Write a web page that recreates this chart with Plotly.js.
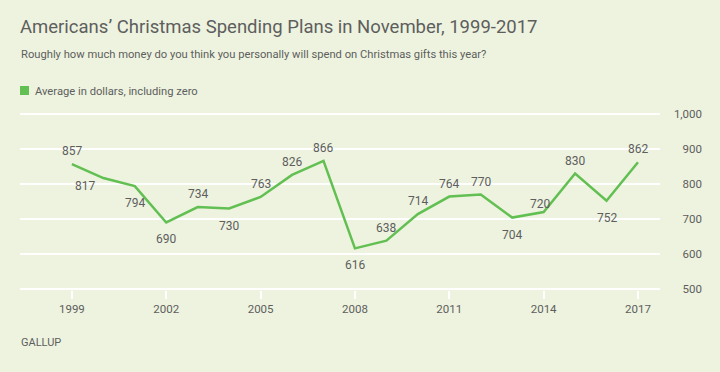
<!DOCTYPE html>
<html><head><meta charset="utf-8">
<script src="https://cdn.plot.ly/plotly-3.0.1.min.js"></script>
<style>html,body{margin:0;padding:0;background:#edf3de;}#chart{width:720px;height:372px;}</style>
</head><body><div id="chart"></div>
<script>
const years = [1999,2000,2001,2002,2003,2004,2005,2006,2007,2008,2009,2010,2011,2012,2013,2014,2015,2016,2017];
const spending = [857,817,794,690,734,730,763,826,866,616,638,714,764,770,704,720,830,752,862];
const xTickVals = [1999,2002,2005,2008,2011,2014,2017];
const yTickVals = [500,600,700,800,900,1000];
const yTickText = ['500','600','700','800','900','1,000'];
const seriesName = 'Average in dollars, including zero';
const titleText = 'Americans\u2019 Christmas Spending Plans in November, 1999-2017';
const subtitleText = 'Roughly how much money do you think you personally will spend on Christmas gifts this year?';
const sourceText = 'GALLUP';

// label placement (style): [xshift, yshift]
const labelShift = [[0,13],[-18,-8],[0,-17],[0,-17],[0,13],[0,-17],[0,13],[0,13],[0,13],[0,-17],[0,13],[0,13],[0,13],[0,13],[0,-17],[-4,8],[0,13],[0,-17],[0,13]];

const green = '#62bf52';
const txt = '#5e5e5e';
const bg = '#edf3de';
const FONT = 'Roboto, sans-serif';

const W = 720, H = 372, ML = 20, MR = 18, MT = 113, MB = 82;
const PW = W - ML - MR, PH = H - MT - MB;
const px = x => (x - ML) / PW;          // pixel -> paper x
const py = y => (H - MB - y) / PH;      // pixel -> paper y

const annotations = years.map((y,i)=>({
  x:y, y:spending[i], xref:'x', yref:'y', text:String(spending[i]), showarrow:false,
  xshift:labelShift[i][0], yshift:labelShift[i][1],
  font:{family:FONT, size:12, color:txt}
}));
annotations.push(
  {xref:'paper', yref:'paper', x:px(19), y:py(55), xanchor:'left', yanchor:'middle', showarrow:false,
   text:subtitleText, font:{family:FONT, size:11.2, color:txt}},
  {xref:'paper', yref:'paper', x:px(33), y:py(91), xanchor:'left', yanchor:'middle', showarrow:false,
   text:seriesName, font:{family:FONT, size:11.2, color:txt}},
  {xref:'paper', yref:'paper', x:px(19), y:py(342), xanchor:'left', yanchor:'middle', showarrow:false,
   text:sourceText, font:{family:FONT, size:11, color:txt}}
);

const data = [
  {x:years, y:spending, type:'scatter', mode:'lines', line:{color:green, width:2.5}, name:seriesName, showlegend:false, hoverinfo:'skip'},
  {x:[years[0]], y:[yTickVals[0]], yaxis:'y2', type:'scatter', mode:'markers', marker:{opacity:0}, showlegend:false, hoverinfo:'skip'}
];

const layout = {
  width:W, height:H,
  paper_bgcolor:bg, plot_bgcolor:bg,
  margin:{l:ML, r:MR, t:MT, b:MB},
  title:{text:titleText, x:ML/W, xanchor:'left', y:1-27/H, yanchor:'middle',
    font:{family:FONT, size:18.5, color:txt}},
  showlegend:false,
  shapes:[{type:'rect', xref:'paper', yref:'paper', x0:px(20), x1:px(29), y0:py(95), y1:py(86), fillcolor:green, line:{width:0}}],
  xaxis:{domain:[0,640/PW], range:[1997.35,2017.7], tickvals:xTickVals, ticktext:xTickVals.map(String),
    showgrid:false, zeroline:false, showline:false, ticks:'outside', ticklen:8, tickwidth:2, tickcolor:'#ffffff',
    tickfont:{family:FONT, size:11.5, color:txt}, fixedrange:true},
  yaxis:{range:[497,1003], tickvals:yTickVals, showticklabels:false, showgrid:true, gridcolor:'#ffffff', gridwidth:2,
    zeroline:false, showline:false, ticks:'', fixedrange:true},
  yaxis2:{overlaying:'y', anchor:'free', side:'left', position:1, range:[497,1003], tickvals:yTickVals, ticktext:yTickText,
    showgrid:false, zeroline:false, showline:false, ticks:'', ticklen:0,
    tickfont:{family:FONT, size:11.5, color:txt}, fixedrange:true},
  annotations:annotations
};
Plotly.newPlot('chart', data, layout, {displayModeBar:false, staticPlot:true});
</script></body></html>
